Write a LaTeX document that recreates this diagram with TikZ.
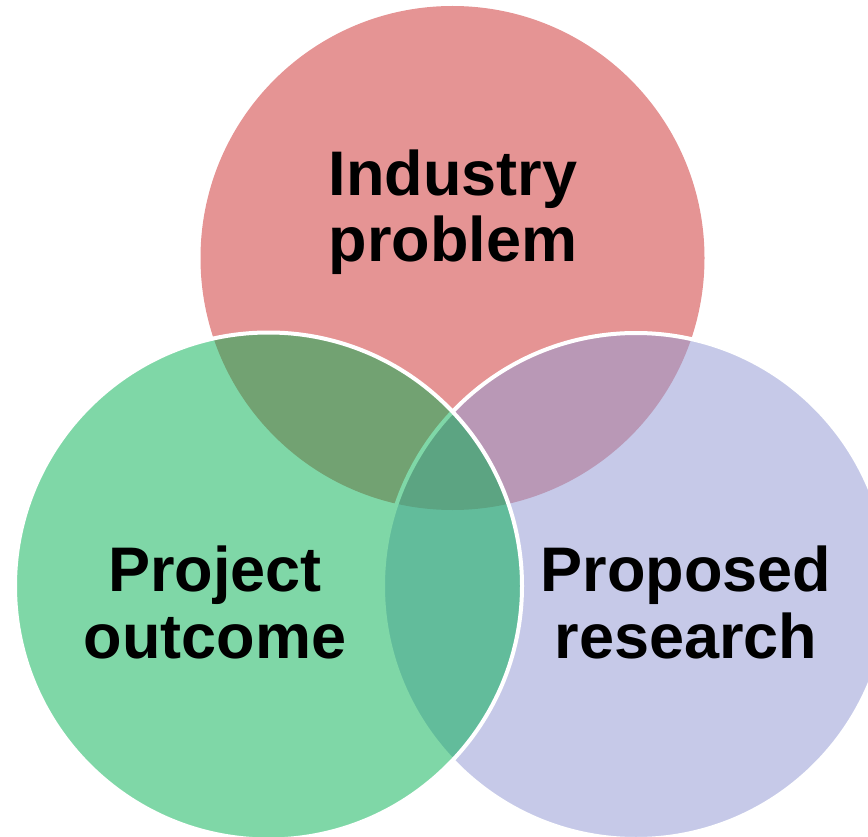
\documentclass[tikz,border=0pt]{standalone}
\usepackage{fontspec}
\setmainfont{Liberation Sans}
\definecolor{cred}{RGB}{192,0,0}
\definecolor{cblue}{RGB}{149,156,212}
\definecolor{cgreen}{RGB}{0,176,80}
\begin{document}
\begin{tikzpicture}[x=1pt,y=-1pt,
  label/.style={align=center,font=\fontsize{63}{66.5}\selectfont\bfseries,text=black,inner sep=0pt,anchor=base}]
\useasboundingbox (0,0) rectangle (868,837);
\clip (0,0) rectangle (868,837);
\fill[cred,fill opacity=0.42] (452.5,258) circle[radius=252];
\filldraw[fill=cblue,fill opacity=0.54,draw=white,line width=4] (636,586) circle[radius=253];
\filldraw[fill=cgreen,fill opacity=0.5,draw=white,line width=4] (268.5,586) circle[radius=253.5];
\node[label] (ind) at (453,262) {Industry\\problem};
\node[label] (proj) at (215,658) {Project\\outcome};
\node[label] (prop) at (686,658) {Proposed\\research};
\end{tikzpicture}
\end{document}
